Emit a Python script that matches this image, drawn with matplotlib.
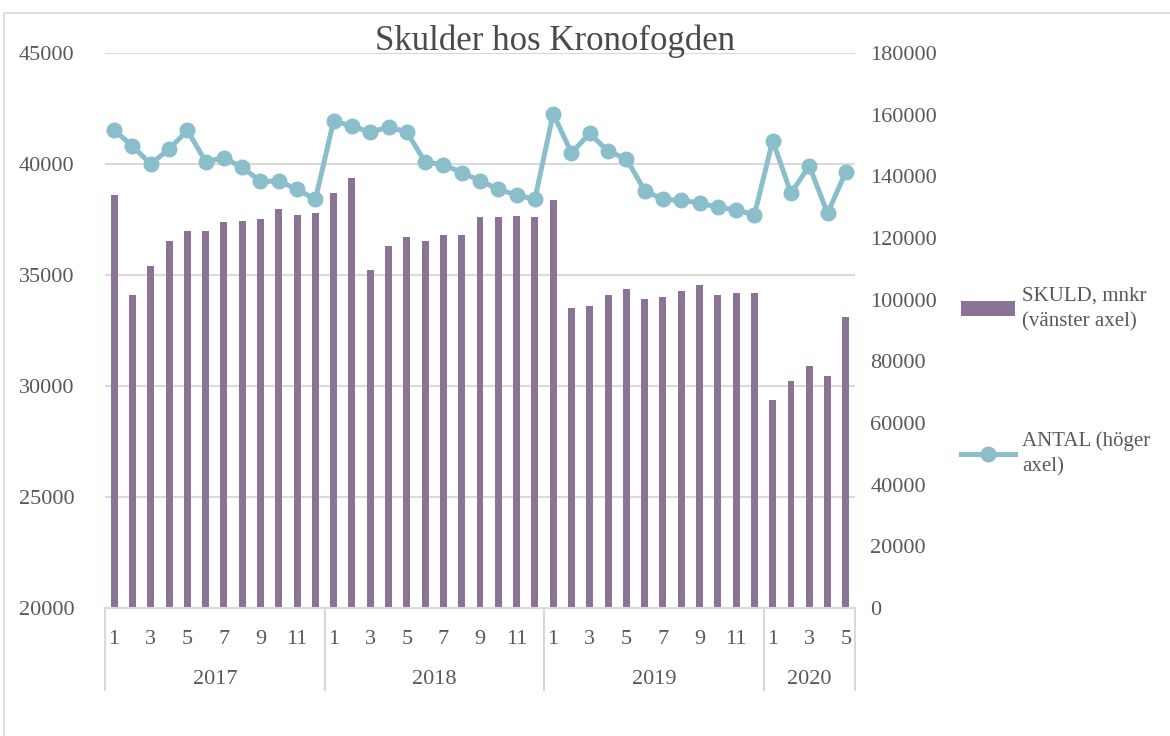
import numpy as np
import matplotlib.pyplot as plt
from matplotlib.patches import Rectangle
import matplotlib.transforms as mtransforms

plt.rcParams["font.family"] = ["Liberation Serif", "DejaVu Serif"]

# data
years = ["2017", "2018", "2019", "2020"]
months_per_year = [12, 12, 12, 5]
skuld = [38600, 34090, 35410, 36530, 37000, 36970, 37400, 37430, 37510, 37980, 37700, 37780,
         38710, 39360, 35230, 36300, 36720, 36550, 36800, 36780, 37600, 37600, 37650, 37600,
         38400, 33500, 33620, 34080, 34360, 33940, 34010, 34260, 34530, 34090, 34200, 34200,
         29350, 30230, 30900, 30470, 33130]
antal = [155000, 149800, 144000, 148800, 154900, 144800, 146000, 142900, 138400, 138400, 135800, 132500,
         158000, 156300, 154300, 156000, 154400, 144600, 143800, 141200, 138600, 135800, 133900, 132600,
         160300, 147600, 153900, 148100, 145700, 135400, 132500, 132200, 131400, 130000, 129100, 127500,
         151600, 134500, 143400, 128000, 141500]

bar_color = "#8B7396"
line_color = "#8BBECB"
grid_color = "#D9D9D9"
text_color = "#595959"

month_labels = []
for n in months_per_year:
    month_labels += [str(m) for m in range(1, n + 1)]
x = np.arange(len(skuld))

fig = plt.figure(figsize=(11.7, 7.36), dpi=100)
ax = fig.add_axes([105 / 1170, 1 - 608 / 736, 750 / 1170, 555 / 736])
ax2 = ax.twinx()

# ram runt diagrammet
fig.patches.append(Rectangle((4 / 1170, -0.1), 1.2, 1 - 13 / 736 + 0.1, transform=fig.transFigure,
                             fill=False, edgecolor=grid_color, linewidth=1.2))

bars = ax.bar(x, skuld, width=0.38, color=bar_color, zorder=2, label="SKULD, mnkr\n(vänster axel)")
line, = ax2.plot(x, antal, color=line_color, linewidth=3.6, marker="o", markersize=10.5,
                 zorder=3, label="ANTAL (höger\naxel)")

ax.set_xlim(-0.5, len(skuld) - 0.5)
ax.set_ylim(20000, 45000)
ax.set_yticks(np.arange(20000, 45001, 5000))
ax2.set_ylim(0, 180000)
ax2.set_yticks(np.arange(0, 180001, 20000))
ax.yaxis.grid(True, color=grid_color, linewidth=1.5, zorder=0)
ax.set_axisbelow(True)

for a in (ax, ax2):
    for s in a.spines.values():
        s.set_visible(False)
ax.spines["bottom"].set_visible(True)
ax.spines["bottom"].set_color(grid_color)
ax.spines["bottom"].set_linewidth(1.5)

ax.tick_params(axis="y", length=0, pad=22, labelsize=16, labelcolor=text_color)
ax2.tick_params(axis="y", length=0, pad=11, labelsize=16, labelcolor=text_color)

# månader (varannan)
ax.set_xticks(x)
ax.set_xticklabels([lab if int(lab) % 2 == 1 else "" for lab in month_labels])
ax.tick_params(axis="x", length=0, pad=16, labelsize=16, labelcolor=text_color)

# årsgrupper med avdelare
trans = mtransforms.blended_transform_factory(ax.transData, ax.transAxes)
bounds = [-0.5]
for n in months_per_year:
    bounds.append(bounds[-1] + n)
for b in bounds:
    ax.plot([b, b], [0, -82 / 555], color=grid_color, linewidth=1.5, transform=trans, clip_on=False)
for yr, b0, b1 in zip(years, bounds[:-1], bounds[1:]):
    ax.text((b0 + b1) / 2, -72 / 555, yr, transform=trans, ha="center", va="center",
            fontsize=16, color=text_color)

fig.text(555 / 1170, 1 - 41 / 736, "Skulder hos Kronofogden", ha="center", va="center",
         fontsize=25, color="#4a4a4a")

leg = fig.legend(handles=[bars, line], loc="upper left", bbox_to_anchor=(942 / 1170, 1 - 268 / 736),
                 frameon=False, fontsize=15, labelcolor=text_color, handlelength=2.6,
                 labelspacing=4.8, handletextpad=0.35)
for t in leg.get_texts():
    t.set_linespacing(1.45)

fig.savefig("out.png", dpi=100)
